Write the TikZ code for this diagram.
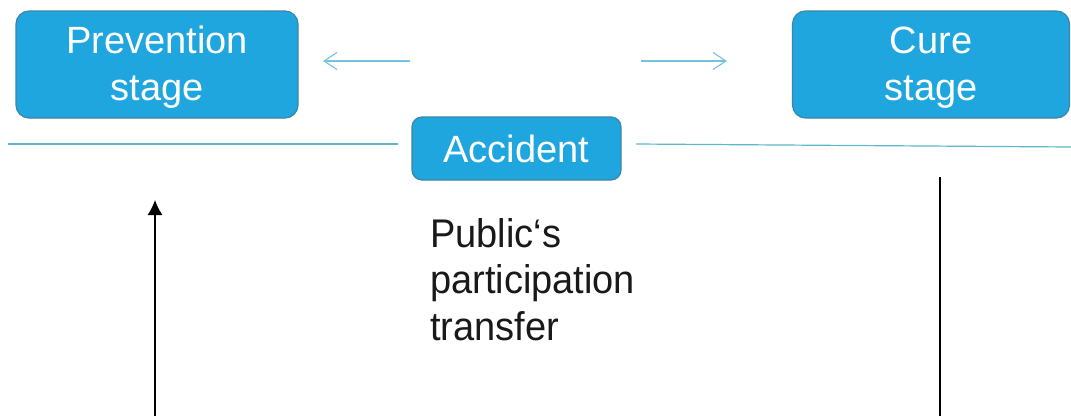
\documentclass[tikz,border=0pt]{standalone}
\usepackage{fontspec}
\setmainfont[FakeStretch=0.95]{Liberation Sans}
\newfontfamily\boxfont{Liberation Sans}
\usetikzlibrary{arrows.meta}
\definecolor{boxfill}{HTML}{20A6DF}
\definecolor{boxedge}{HTML}{3A86A8}
\definecolor{hline}{HTML}{5DB8CA}
\definecolor{harrow}{HTML}{74C4DF}
\tikzset{
  stagebox/.style={draw=boxedge, line width=1.2pt, fill=boxfill, rounded corners=13pt,
    text=white, align=center, inner sep=0pt,
    font=\boxfont\fontsize{38}{47}\selectfont},
  lightarrow/.style={draw=harrow, line width=1.1pt, -{Straight Barb[length=13pt,width=17pt]}},
  baseline/.style={draw=hline, line width=1.2pt},
  blackarrow/.style={draw=black, line width=1.1pt, -{Latex[length=15pt,width=15pt]}},
  blackline/.style={draw=black, line width=1.1pt},
  plaintext/.style={align=left, inner sep=0pt, text=black!90,
    font=\fontsize{40}{46.5}\selectfont}
}
\begin{document}
\begin{tikzpicture}[x=1pt,y=-1pt]
\useasboundingbox (0,0) rectangle (1071,416);
\fill[white] (0,0) rectangle (1071,416);
% boxes
\node[stagebox, minimum width=282pt, minimum height=107pt] (prev) at (157,64.5) {\rule{0pt}{32pt}Prevention\\stage};
\node[stagebox, minimum width=277pt, minimum height=107pt] (cure) at (931,64.5) {\rule{0pt}{32pt}Cure\\stage};
\node[stagebox, minimum width=209pt, minimum height=63pt, rounded corners=10pt] (acc) at (516.5,148.5) {Accident};
% text
\node[plaintext, anchor=base west] (pub) at (430,340) {Public‘s\\participation\\transfer};
% coordinates
\coordinate (la1) at (410,61);
\coordinate (la2) at (323,61);
\coordinate (ra1) at (641,61);
\coordinate (ra2) at (727,61);
\coordinate (hl1) at (8,144);
\coordinate (hl2) at (398,144);
\coordinate (hr1) at (636,144);
\coordinate (hr2) at (1071,147);
\coordinate (ba1) at (155,416);
\coordinate (ba2) at (155,200);
\coordinate (bl1) at (940,177);
\coordinate (bl2) at (940,416);
% connectors
\draw[lightarrow] (la1) -- (la2);
\draw[lightarrow] (ra1) -- (ra2);
\draw[baseline] (hl1) -- (hl2);
\draw[baseline] (hr1) -- (hr2);
\draw[blackarrow] (ba1) -- (ba2);
\draw[blackline] (bl1) -- (bl2);
\end{tikzpicture}
\end{document}
